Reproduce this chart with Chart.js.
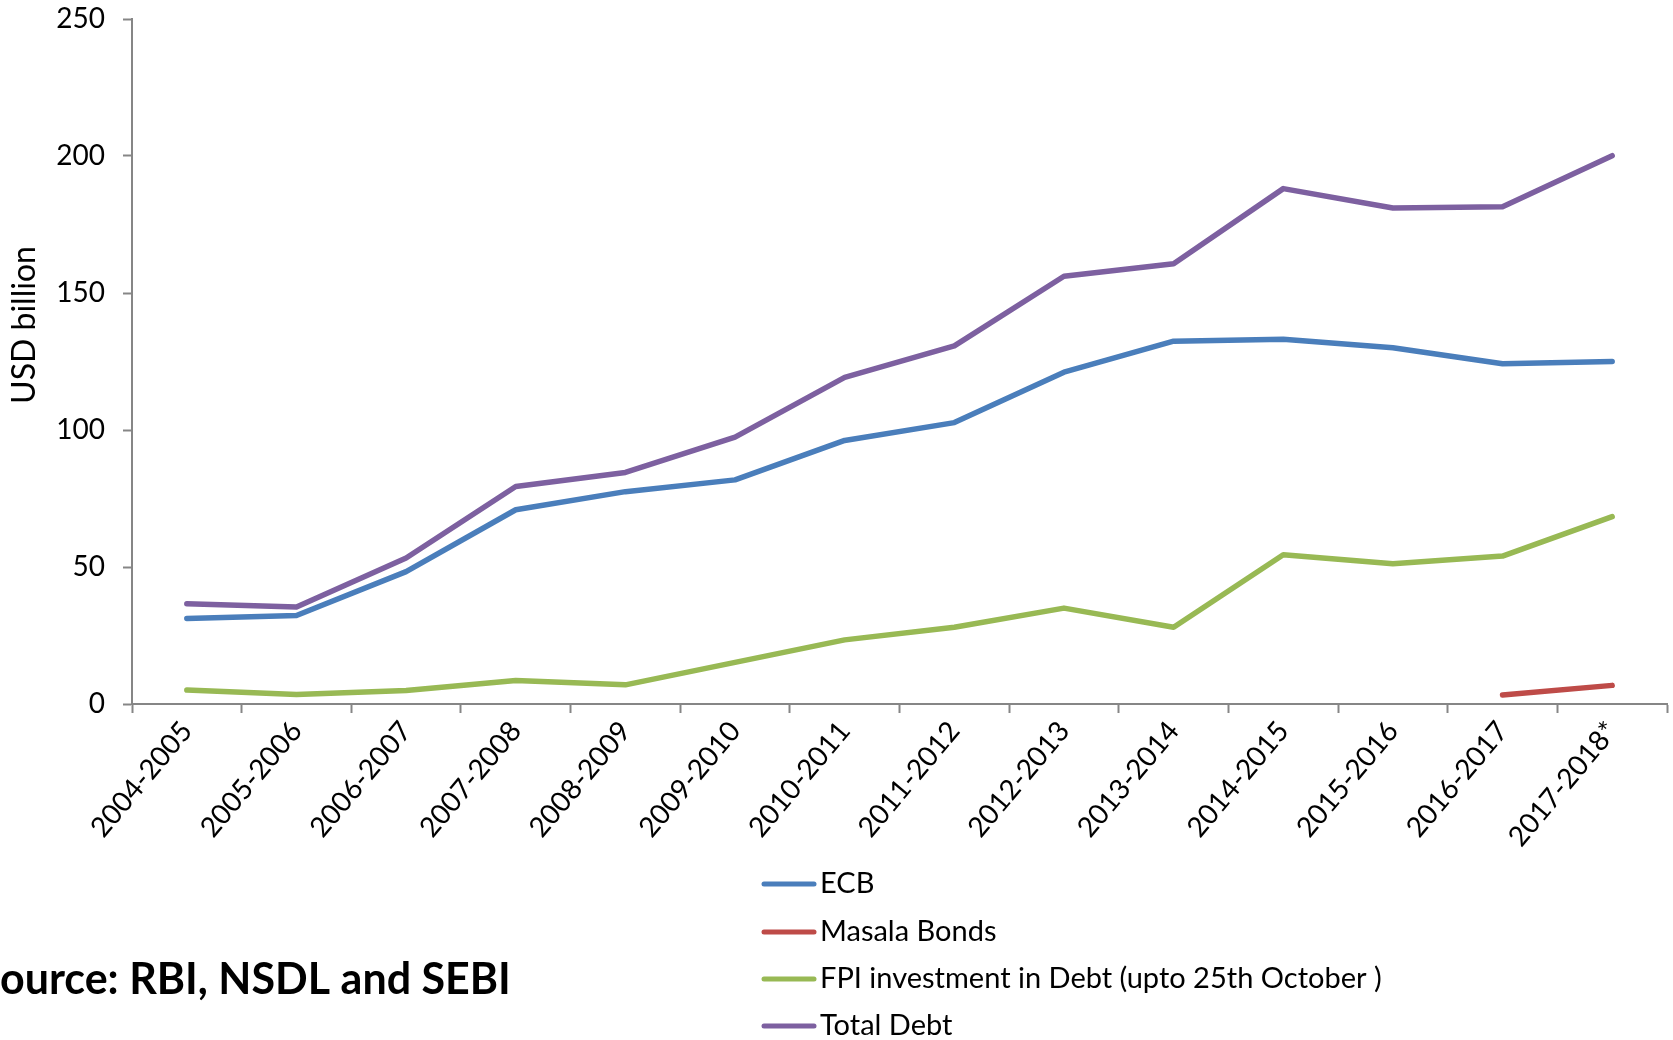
<!DOCTYPE html>
<html>
<head>
<meta charset="utf-8">
<title>External commercial borrowings and debt flows</title>
<script src="https://cdn.jsdelivr.net/npm/chart.js@4/dist/chart.umd.min.js"></script>
<style>
  html, body { margin: 0; padding: 0; background: #ffffff; }
  #wrap { width: 1673px; height: 1040px; position: relative; }
</style>
</head>
<body>
<div id="wrap"><canvas id="debtChart" width="1673" height="1040"></canvas></div>
<script>
// Financial years on the category axis
const categories = ['2004-2005', '2005-2006', '2006-2007', '2007-2008', '2008-2009', '2009-2010', '2010-2011',
  '2011-2012', '2012-2013', '2013-2014', '2014-2015', '2015-2016', '2016-2017', '2017-2018*'];

// Series, USD billion
const ecb = [31.2, 32.3, 48.3, 70.9, 77.5, 81.8, 96.2, 102.7, 121.1, 132.4, 133.1, 130.0, 124.2, 125.0];
const masalaBonds = [null, null, null, null, null, null, null, null, null, null, null, null, 3.3, 6.8];
const fpiDebt = [5.1, 3.5, 4.9, 8.6, 7.0, 15.2, 23.4, 28.0, 35.0, 28.0, 54.5, 51.2, 54.0, 68.4];
const totalDebt = [36.6, 35.4, 53.3, 79.4, 84.5, 97.4, 119.2, 130.7, 156.1, 160.7, 188.1, 181.0, 181.5, 200.1];

// Value axis ticks
const yTicks = [0, 50, 100, 150, 200, 250];

const seriesLabels = ['ECB', 'Masala Bonds', 'FPI investment in Debt (upto 25th October )', 'Total Debt'];
const seriesColors = ['#4a7ebb', '#be4b48', '#98b954', '#7d60a0'];
const seriesData = [ecb, masalaBonds, fpiDebt, totalDebt];

const FONT = 'Lato, "Open Sans", sans-serif';
const AXIS_GREY = '#868686';

// Axis title, stacked legend and source note
const extrasPlugin = {
  id: 'extras',
  afterDraw(chart) {
    const ctx = chart.ctx;
    ctx.save();
    ctx.fillStyle = '#000000';

    // y-axis title
    ctx.save();
    ctx.translate(25, 325);
    ctx.rotate(-Math.PI / 2);
    ctx.font = '32px ' + FONT;
    ctx.textAlign = 'center';
    ctx.textBaseline = 'middle';
    ctx.fillText('USD billion', 0, 0);
    ctx.restore();

    // legend, one entry per row
    const rows = [884, 932, 979, 1026];
    ctx.font = '29px ' + FONT;
    ctx.textAlign = 'left';
    ctx.textBaseline = 'middle';
    chart.data.datasets.forEach((ds, i) => {
      const y = rows[i];
      ctx.strokeStyle = ds.borderColor;
      ctx.lineWidth = 5;
      ctx.lineCap = 'round';
      ctx.beginPath();
      ctx.moveTo(764, y);
      ctx.lineTo(814, y);
      ctx.stroke();
      ctx.fillStyle = '#000000';
      ctx.fillText(ds.label, 820, y);
    });

    // source note
    ctx.font = 'bold 43px ' + FONT;
    ctx.textBaseline = 'middle';
    const lead = ctx.measureText('S').width;
    ctx.fillText('Source: RBI, NSDL and SEBI', -lead, 980);
    ctx.restore();
  }
};

new Chart(document.getElementById('debtChart'), {
  type: 'line',
  data: {
    labels: categories,
    datasets: seriesData.map((values, i) => ({
      label: seriesLabels[i],
      data: values,
      borderColor: seriesColors[i],
      backgroundColor: seriesColors[i],
      borderWidth: 5.5,
      borderCapStyle: 'round',
      borderJoinStyle: 'round',
      pointRadius: 0,
      pointHoverRadius: 0,
      tension: 0,
      fill: false,
      spanGaps: false
    }))
  },
  options: {
    responsive: false,
    animation: false,
    events: [],
    layout: { padding: { top: 19, right: 6, bottom: 186, left: 0 } },
    plugins: {
      legend: { display: false },
      tooltip: { enabled: false },
      title: { display: false }
    },
    scales: {
      x: {
        type: 'category',
        offset: true,
        afterFit(scale) { scale.height = 150; },
        grid: {
          offset: true,
          drawOnChartArea: false,
          drawTicks: true,
          tickLength: 9,
          tickWidth: 2,
          tickColor: AXIS_GREY,
          color: AXIS_GREY
        },
        border: { display: true, color: AXIS_GREY, width: 2 },
        ticks: {
          color: '#000000',
          font: { family: FONT, size: 28 },
          minRotation: 50,
          maxRotation: 50,
          padding: 2,
          autoSkip: false
        }
      },
      y: {
        min: 0,
        max: 250,
        afterFit(scale) {
          scale.width = 132;
          scale.paddingTop = 0;
          scale.paddingBottom = 0;
        },
        afterBuildTicks(scale) { scale.ticks = yTicks.map(v => ({ value: v })); },
        grid: {
          drawOnChartArea: false,
          drawTicks: true,
          tickLength: 9,
          tickWidth: 2,
          tickColor: AXIS_GREY,
          color: AXIS_GREY
        },
        border: { display: true, color: AXIS_GREY, width: 2 },
        ticks: {
          color: '#000000',
          font: { family: FONT, size: 28 },
          padding: 18
        }
      }
    }
  },
  plugins: [extrasPlugin]
});
</script>
</body>
</html>
